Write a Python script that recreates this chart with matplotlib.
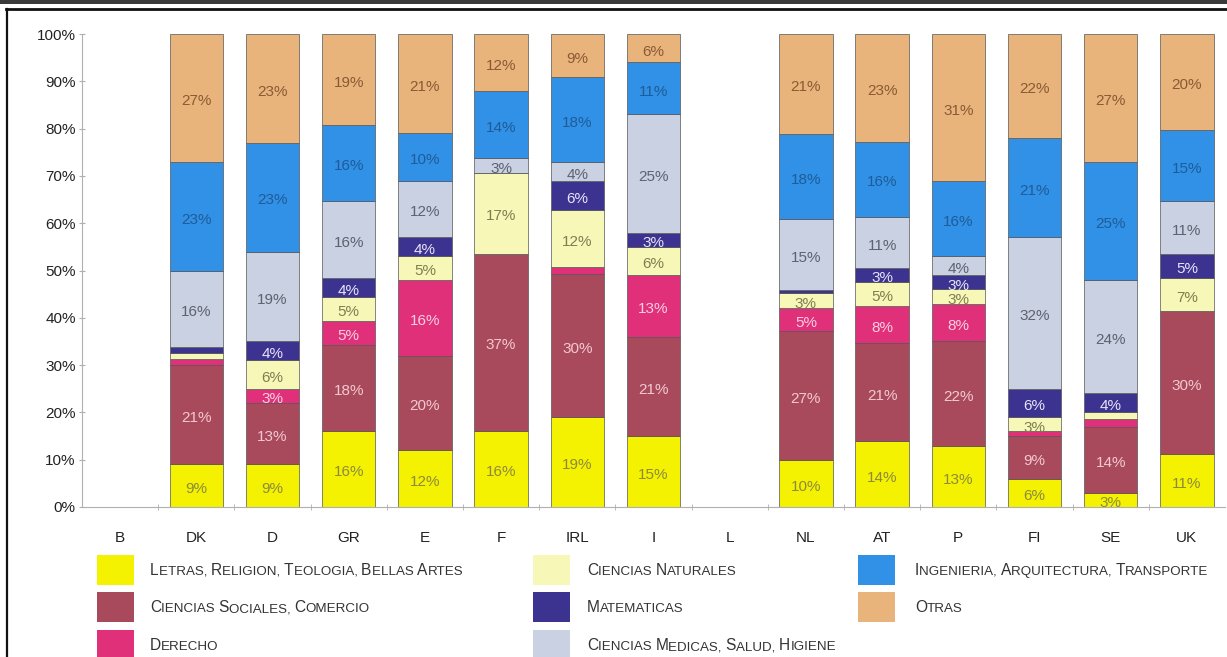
import matplotlib
matplotlib.use("Agg")
import matplotlib.pyplot as plt
from matplotlib.font_manager import FontProperties
from matplotlib.patches import Rectangle
from matplotlib.lines import Line2D
import numpy as np

plt.rcParams['font.family'] = ['Liberation Sans', 'DejaVu Sans']

# Share of graduates by field of study, per country (%)
countries = ["B", "DK", "D", "GR", "E", "F", "IRL", "I", "L",
             "NL", "AT", "P", "FI", "SE", "UK"]

letras      = [0, 9, 9, 16, 12, 16, 19, 15, 0, 10, 14, 13, 6, 3, 11]
sociales    = [0, 21, 13, 18, 20, 37, 30, 21, 0, 27, 21, 22, 9, 14, 30]
derecho     = [0, 1.2, 3, 5, 16, 0, 1.5, 13, 0, 5, 8, 8, 1, 1.5, 0]
naturales   = [0, 1.3, 6, 5, 5, 17, 12, 6, 0, 3, 5, 3, 3, 1.5, 7]
matematicas = [0, 1.3, 4, 4, 4, 0, 6, 3, 0, 0.6, 3, 3, 6, 4, 5]
medicas     = [0, 16, 19, 16, 12, 3, 4, 25, 0, 15, 11, 4, 32, 24, 11]
ingenieria  = [0, 23, 23, 16, 10, 14, 18, 11, 0, 18, 16, 16, 21, 25, 15]
otras       = [0, 27, 23, 19, 21, 12, 9, 6, 0, 21, 23, 31, 22, 27, 20]

series = [letras, sociales, derecho, naturales, matematicas,
          medicas, ingenieria, otras]
names = ["Letras, Religion, Teologia, Bellas Artes",
         "Ciencias Sociales, Comercio",
         "Derecho",
         "Ciencias Naturales",
         "Matematicas",
         "Ciencias Medicas, Salud, Higiene",
         "Ingenieria, Arquitectura, Transporte",
         "Otras"]
fills = ["#f4f200", "#a84a5c", "#e03079", "#f7f7b7",
         "#3b338f", "#c9d1e2", "#3191e6", "#e8b47c"]
ink = ["#8c8a3c", "#f3c9cf", "#f8d0e0", "#7e7e52",
       "#e8e4f8", "#5e6270", "#1f5c99", "#8a5a34"]

W, H = 1227, 657
fig = plt.figure(figsize=(W / 100, H / 100), dpi=100)
ax = fig.add_axes([82 / W, 150 / H, 1143 / W, 473 / H])

data = np.array(series, dtype=float)
totals = data.sum(axis=0)
shares = np.divide(data * 100.0, totals, out=np.zeros_like(data),
                   where=totals > 0)

x = np.arange(len(countries))
bottom = np.zeros(len(countries))
for k in range(len(series)):
    h = shares[k]
    ax.bar(x, h, bottom=bottom, width=0.70, color=fills[k],
           edgecolor="#555555", linewidth=0.5, zorder=2)
    for i in range(len(countries)):
        v = data[k][i]
        if v >= 2.5:
            ax.text(x[i], bottom[i] + h[i] / 2 - 0.7, f"{v:.0f}%",
                    ha="center", va="center", fontsize=11,
                    color=ink[k], zorder=3)
    bottom += h

ax.set_xlim(-0.5, len(countries) - 0.5)
ax.set_ylim(0, 100)
ax.set_yticks(np.arange(0, 101, 10))
ax.set_yticklabels([f"{t}%" for t in range(0, 101, 10)], fontsize=11,
                   color="#222222")
ax.set_xticks(x)
ax.set_xticklabels(countries, fontsize=11, color="#222222")
ax.set_xticks(x[:-1] + 0.5, minor=True)
ax.tick_params(axis="x", which="major", length=0, pad=17)
ax.tick_params(axis="x", which="minor", length=5, direction="inout",
               color="#b0b0b0")
ax.tick_params(axis="y", length=5, direction="inout", color="#b0b0b0",
               pad=2)
for s in ("top", "right"):
    ax.spines[s].set_visible(False)
for s in ("left", "bottom"):
    ax.spines[s].set_color("#b0b0b0")
    ax.spines[s].set_linewidth(0.8)

# Legend in three columns, labels set in small capitals
renderer = fig.canvas.get_renderer()
big_fp = FontProperties(family="Liberation Sans", size=11.2)
small_fp = FontProperties(family="Liberation Sans", size=9.6)


def advance(s, fp):
    w1 = renderer.get_text_width_height_descent(s + "|", fp, ismath=False)[0]
    w0 = renderer.get_text_width_height_descent("|", fp, ismath=False)[0]
    return w1 - w0


def small_caps(xp, yp, label, color="#333333"):
    chunks = []
    for ch in label:
        is_big = ch.isupper()
        if chunks and chunks[-1][1] == is_big:
            chunks[-1][0] += ch
        else:
            chunks.append([ch, is_big])
    cur = xp
    for s, is_big in chunks:
        fp = big_fp if is_big else small_fp
        fig.text(cur / W, 1 - yp / H, s.upper(), fontproperties=fp,
                 color=color, ha="left", va="baseline")
        cur += advance(s.upper(), fp)


col_patch_x = [97, 533, 858]
col_text_x = [150, 587, 915]
row_y = [570, 607, 645]
slots = [(0, 0), (0, 1), (0, 2), (1, 0), (1, 1), (1, 2), (2, 0), (2, 1)]
for k, (c, r) in enumerate(slots):
    px, py = col_patch_x[c], row_y[r]
    fig.patches.append(Rectangle((px / W, 1 - (py + 15) / H), 37 / W,
                                 30 / H, transform=fig.transFigure,
                                 facecolor=fills[k], edgecolor="none"))
    small_caps(col_text_x[c], py + 5, names[k])

# Page frame
fig.patches.append(Rectangle((0, 1 - 3.5 / H), 1, 3.5 / H,
                             transform=fig.transFigure,
                             facecolor="#3a3a3a", edgecolor="none"))
fig.lines.append(Line2D([6 / W, 1], [1 - 8.5 / H, 1 - 8.5 / H],
                        transform=fig.transFigure, color="#111111",
                        linewidth=2.0))
fig.lines.append(Line2D([6.5 / W, 6.5 / W], [0, 1 - 8.5 / H],
                        transform=fig.transFigure, color="#111111",
                        linewidth=1.6))

fig.savefig("out.png", dpi=100)
